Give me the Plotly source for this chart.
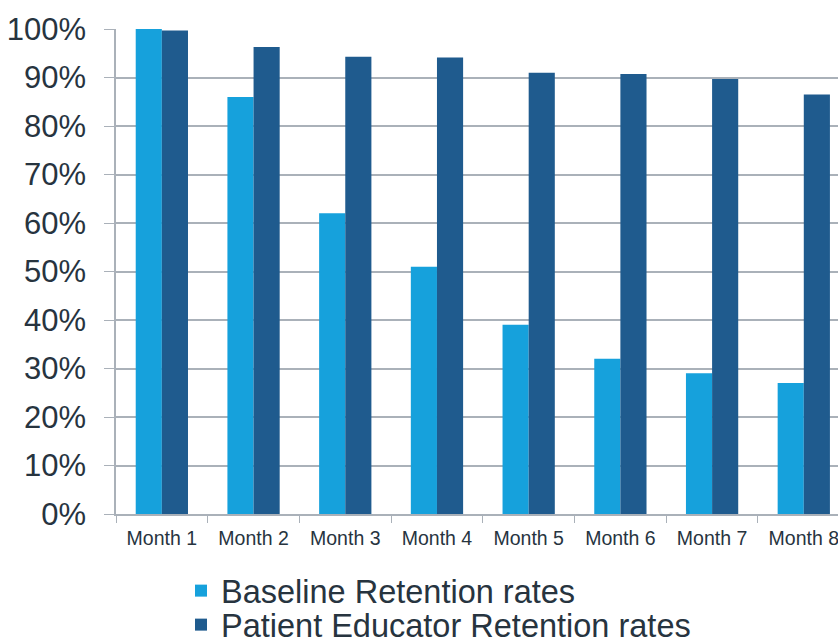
import plotly.graph_objects as go

months = ["Month 1", "Month 2", "Month 3", "Month 4", "Month 5", "Month 6", "Month 7", "Month 8"]
baseline = [100, 86, 62, 51, 39, 32, 29, 27]
educator = [99.7, 96.3, 94.3, 94.1, 91.0, 90.7, 89.7, 86.5]
y_ticks = [0, 10, 20, 30, 40, 50, 60, 70, 80, 90, 100]
y_labels = [f"{v}%" for v in y_ticks]

TEXT = "#27343f"
GRID = "#aab1b9"

fig = go.Figure()
fig.add_trace(go.Bar(x=months, y=baseline, name="Baseline Retention rates",
                     marker=dict(color="#16a1dc", line=dict(width=0)), legend="legend"))
fig.add_trace(go.Bar(x=months, y=educator, name="Patient Educator Retention rates",
                     marker=dict(color="#1f5b8e", line=dict(width=0)), legend="legend2"))

leg_common = dict(orientation="v", x=0.09, xanchor="left", yref="container",
                  yanchor="middle", font=dict(size=32.5, color=TEXT), itemsizing="constant",
                  bgcolor="rgba(0,0,0,0)")

fig.update_layout(
    width=838, height=643,
    margin=dict(l=116, r=0, t=29, b=129, autoexpand=False),
    paper_bgcolor="white", plot_bgcolor="white",
    barmode="group", bargap=0.43, bargroupgap=0,
    font=dict(family="Liberation Sans, Arial, sans-serif", color=TEXT),
    showlegend=True,
    legend=dict(**leg_common, y=1 - 591 / 643),
    legend2=dict(**leg_common, y=1 - 625 / 643),
    xaxis=dict(range=[-0.5, 7.373], tickson="boundaries", ticks="outside", ticklen=7,
               tickcolor=GRID, showline=True, linecolor=GRID, linewidth=1.5,
               showgrid=False, tickfont=dict(size=19.5, color=TEXT), automargin=False,
               ticklabelstandoff=6),
    yaxis=dict(range=[0, 100], tickvals=y_ticks, ticktext=y_labels, ticks="outside",
               ticklen=10, tickcolor=GRID, showline=True, linecolor=GRID, linewidth=1.5,
               showgrid=True, gridcolor=GRID, gridwidth=1.5, zeroline=False,
               tickfont=dict(size=31, color=TEXT), ticklabelstandoff=12, automargin=False),
)

fig.write_html("out.html")
